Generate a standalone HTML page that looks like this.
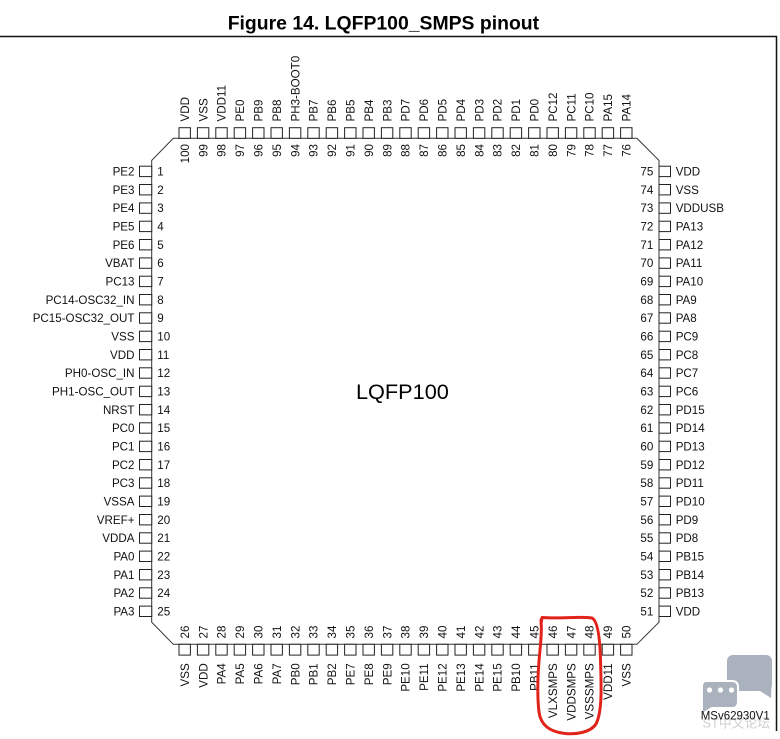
<!DOCTYPE html>
<html><head><meta charset="utf-8"><style>
html,body{margin:0;padding:0;background:#fff;}
svg{display:block;}
text{font-family:"Liberation Sans",Arial,sans-serif;font-size:11.6px;fill:#111;}
.e{text-anchor:end;}
rect.b{fill:#fff;stroke:#222;stroke-width:1;}
</style></head><body>
<svg width="780" height="739" viewBox="0 0 780 739" xmlns="http://www.w3.org/2000/svg">
<rect x="0" y="0" width="780" height="739" fill="#fff"/>
<text x="383.4" y="29.5" style="font-size:19.4px;font-weight:bold;text-anchor:middle;fill:#000">Figure 14. LQFP100_SMPS pinout</text>
<path d="M0 36.5 H776.5 V731" fill="none" stroke="#111" stroke-width="1.5"/>
<polygon points="173.3,138.3 636.9,138.3 659,160.4 659,622.2 636.9,644.3 173.3,644.3 151.7,622.2 151.7,160.4" fill="none" stroke="#333" stroke-width="1"/>
<text x="356" y="399" style="font-size:21.7px;fill:#000">LQFP100</text>

<!-- Left pins -->
<g transform="translate(0 171.4)"><rect class="b" x="139.5" y="-5.2" width="12.2" height="10.4"/><text class="e" x="134.5" y="4.1">PE2</text><text x="157.3" y="4.1">1</text></g>
<g transform="translate(0 189.7)"><rect class="b" x="139.5" y="-5.2" width="12.2" height="10.4"/><text class="e" x="134.5" y="4.1">PE3</text><text x="157.3" y="4.1">2</text></g>
<g transform="translate(0 208.1)"><rect class="b" x="139.5" y="-5.2" width="12.2" height="10.4"/><text class="e" x="134.5" y="4.1">PE4</text><text x="157.3" y="4.1">3</text></g>
<g transform="translate(0 226.4)"><rect class="b" x="139.5" y="-5.2" width="12.2" height="10.4"/><text class="e" x="134.5" y="4.1">PE5</text><text x="157.3" y="4.1">4</text></g>
<g transform="translate(0 244.7)"><rect class="b" x="139.5" y="-5.2" width="12.2" height="10.4"/><text class="e" x="134.5" y="4.1">PE6</text><text x="157.3" y="4.1">5</text></g>
<g transform="translate(0 263.1)"><rect class="b" x="139.5" y="-5.2" width="12.2" height="10.4"/><text class="e" x="134.5" y="4.1">VBAT</text><text x="157.3" y="4.1">6</text></g>
<g transform="translate(0 281.4)"><rect class="b" x="139.5" y="-5.2" width="12.2" height="10.4"/><text class="e" x="134.5" y="4.1">PC13</text><text x="157.3" y="4.1">7</text></g>
<g transform="translate(0 299.7)"><rect class="b" x="139.5" y="-5.2" width="12.2" height="10.4"/><text class="e" x="134.5" y="4.1">PC14-OSC32_IN</text><text x="157.3" y="4.1">8</text></g>
<g transform="translate(0 318.0)"><rect class="b" x="139.5" y="-5.2" width="12.2" height="10.4"/><text class="e" x="134.5" y="4.1">PC15-OSC32_OUT</text><text x="157.3" y="4.1">9</text></g>
<g transform="translate(0 336.4)"><rect class="b" x="139.5" y="-5.2" width="12.2" height="10.4"/><text class="e" x="134.5" y="4.1">VSS</text><text x="157.3" y="4.1">10</text></g>
<g transform="translate(0 354.7)"><rect class="b" x="139.5" y="-5.2" width="12.2" height="10.4"/><text class="e" x="134.5" y="4.1">VDD</text><text x="157.3" y="4.1">11</text></g>
<g transform="translate(0 373.0)"><rect class="b" x="139.5" y="-5.2" width="12.2" height="10.4"/><text class="e" x="134.5" y="4.1">PH0-OSC_IN</text><text x="157.3" y="4.1">12</text></g>
<g transform="translate(0 391.4)"><rect class="b" x="139.5" y="-5.2" width="12.2" height="10.4"/><text class="e" x="134.5" y="4.1">PH1-OSC_OUT</text><text x="157.3" y="4.1">13</text></g>
<g transform="translate(0 409.7)"><rect class="b" x="139.5" y="-5.2" width="12.2" height="10.4"/><text class="e" x="134.5" y="4.1">NRST</text><text x="157.3" y="4.1">14</text></g>
<g transform="translate(0 428.0)"><rect class="b" x="139.5" y="-5.2" width="12.2" height="10.4"/><text class="e" x="134.5" y="4.1">PC0</text><text x="157.3" y="4.1">15</text></g>
<g transform="translate(0 446.4)"><rect class="b" x="139.5" y="-5.2" width="12.2" height="10.4"/><text class="e" x="134.5" y="4.1">PC1</text><text x="157.3" y="4.1">16</text></g>
<g transform="translate(0 464.7)"><rect class="b" x="139.5" y="-5.2" width="12.2" height="10.4"/><text class="e" x="134.5" y="4.1">PC2</text><text x="157.3" y="4.1">17</text></g>
<g transform="translate(0 483.0)"><rect class="b" x="139.5" y="-5.2" width="12.2" height="10.4"/><text class="e" x="134.5" y="4.1">PC3</text><text x="157.3" y="4.1">18</text></g>
<g transform="translate(0 501.3)"><rect class="b" x="139.5" y="-5.2" width="12.2" height="10.4"/><text class="e" x="134.5" y="4.1">VSSA</text><text x="157.3" y="4.1">19</text></g>
<g transform="translate(0 519.7)"><rect class="b" x="139.5" y="-5.2" width="12.2" height="10.4"/><text class="e" x="134.5" y="4.1">VREF+</text><text x="157.3" y="4.1">20</text></g>
<g transform="translate(0 538.0)"><rect class="b" x="139.5" y="-5.2" width="12.2" height="10.4"/><text class="e" x="134.5" y="4.1">VDDA</text><text x="157.3" y="4.1">21</text></g>
<g transform="translate(0 556.3)"><rect class="b" x="139.5" y="-5.2" width="12.2" height="10.4"/><text class="e" x="134.5" y="4.1">PA0</text><text x="157.3" y="4.1">22</text></g>
<g transform="translate(0 574.7)"><rect class="b" x="139.5" y="-5.2" width="12.2" height="10.4"/><text class="e" x="134.5" y="4.1">PA1</text><text x="157.3" y="4.1">23</text></g>
<g transform="translate(0 593.0)"><rect class="b" x="139.5" y="-5.2" width="12.2" height="10.4"/><text class="e" x="134.5" y="4.1">PA2</text><text x="157.3" y="4.1">24</text></g>
<g transform="translate(0 611.3)"><rect class="b" x="139.5" y="-5.2" width="12.2" height="10.4"/><text class="e" x="134.5" y="4.1">PA3</text><text x="157.3" y="4.1">25</text></g>

<!-- Right pins -->
<g transform="translate(0 171.4)"><rect class="b" x="659" y="-5.2" width="11.5" height="10.4"/><text class="e" x="653.3" y="4.1">75</text><text x="675.7" y="4.1">VDD</text></g>
<g transform="translate(0 189.7)"><rect class="b" x="659" y="-5.2" width="11.5" height="10.4"/><text class="e" x="653.3" y="4.1">74</text><text x="675.7" y="4.1">VSS</text></g>
<g transform="translate(0 208.1)"><rect class="b" x="659" y="-5.2" width="11.5" height="10.4"/><text class="e" x="653.3" y="4.1">73</text><text x="675.7" y="4.1">VDDUSB</text></g>
<g transform="translate(0 226.4)"><rect class="b" x="659" y="-5.2" width="11.5" height="10.4"/><text class="e" x="653.3" y="4.1">72</text><text x="675.7" y="4.1">PA13</text></g>
<g transform="translate(0 244.7)"><rect class="b" x="659" y="-5.2" width="11.5" height="10.4"/><text class="e" x="653.3" y="4.1">71</text><text x="675.7" y="4.1">PA12</text></g>
<g transform="translate(0 263.1)"><rect class="b" x="659" y="-5.2" width="11.5" height="10.4"/><text class="e" x="653.3" y="4.1">70</text><text x="675.7" y="4.1">PA11</text></g>
<g transform="translate(0 281.4)"><rect class="b" x="659" y="-5.2" width="11.5" height="10.4"/><text class="e" x="653.3" y="4.1">69</text><text x="675.7" y="4.1">PA10</text></g>
<g transform="translate(0 299.7)"><rect class="b" x="659" y="-5.2" width="11.5" height="10.4"/><text class="e" x="653.3" y="4.1">68</text><text x="675.7" y="4.1">PA9</text></g>
<g transform="translate(0 318.0)"><rect class="b" x="659" y="-5.2" width="11.5" height="10.4"/><text class="e" x="653.3" y="4.1">67</text><text x="675.7" y="4.1">PA8</text></g>
<g transform="translate(0 336.4)"><rect class="b" x="659" y="-5.2" width="11.5" height="10.4"/><text class="e" x="653.3" y="4.1">66</text><text x="675.7" y="4.1">PC9</text></g>
<g transform="translate(0 354.7)"><rect class="b" x="659" y="-5.2" width="11.5" height="10.4"/><text class="e" x="653.3" y="4.1">65</text><text x="675.7" y="4.1">PC8</text></g>
<g transform="translate(0 373.0)"><rect class="b" x="659" y="-5.2" width="11.5" height="10.4"/><text class="e" x="653.3" y="4.1">64</text><text x="675.7" y="4.1">PC7</text></g>
<g transform="translate(0 391.4)"><rect class="b" x="659" y="-5.2" width="11.5" height="10.4"/><text class="e" x="653.3" y="4.1">63</text><text x="675.7" y="4.1">PC6</text></g>
<g transform="translate(0 409.7)"><rect class="b" x="659" y="-5.2" width="11.5" height="10.4"/><text class="e" x="653.3" y="4.1">62</text><text x="675.7" y="4.1">PD15</text></g>
<g transform="translate(0 428.0)"><rect class="b" x="659" y="-5.2" width="11.5" height="10.4"/><text class="e" x="653.3" y="4.1">61</text><text x="675.7" y="4.1">PD14</text></g>
<g transform="translate(0 446.4)"><rect class="b" x="659" y="-5.2" width="11.5" height="10.4"/><text class="e" x="653.3" y="4.1">60</text><text x="675.7" y="4.1">PD13</text></g>
<g transform="translate(0 464.7)"><rect class="b" x="659" y="-5.2" width="11.5" height="10.4"/><text class="e" x="653.3" y="4.1">59</text><text x="675.7" y="4.1">PD12</text></g>
<g transform="translate(0 483.0)"><rect class="b" x="659" y="-5.2" width="11.5" height="10.4"/><text class="e" x="653.3" y="4.1">58</text><text x="675.7" y="4.1">PD11</text></g>
<g transform="translate(0 501.3)"><rect class="b" x="659" y="-5.2" width="11.5" height="10.4"/><text class="e" x="653.3" y="4.1">57</text><text x="675.7" y="4.1">PD10</text></g>
<g transform="translate(0 519.7)"><rect class="b" x="659" y="-5.2" width="11.5" height="10.4"/><text class="e" x="653.3" y="4.1">56</text><text x="675.7" y="4.1">PD9</text></g>
<g transform="translate(0 538.0)"><rect class="b" x="659" y="-5.2" width="11.5" height="10.4"/><text class="e" x="653.3" y="4.1">55</text><text x="675.7" y="4.1">PD8</text></g>
<g transform="translate(0 556.3)"><rect class="b" x="659" y="-5.2" width="11.5" height="10.4"/><text class="e" x="653.3" y="4.1">54</text><text x="675.7" y="4.1">PB15</text></g>
<g transform="translate(0 574.7)"><rect class="b" x="659" y="-5.2" width="11.5" height="10.4"/><text class="e" x="653.3" y="4.1">53</text><text x="675.7" y="4.1">PB14</text></g>
<g transform="translate(0 593.0)"><rect class="b" x="659" y="-5.2" width="11.5" height="10.4"/><text class="e" x="653.3" y="4.1">52</text><text x="675.7" y="4.1">PB13</text></g>
<g transform="translate(0 611.3)"><rect class="b" x="659" y="-5.2" width="11.5" height="10.4"/><text class="e" x="653.3" y="4.1">51</text><text x="675.7" y="4.1">VDD</text></g>

<!-- Top pins -->
<g transform="translate(184.7 0)"><rect class="b" x="-5.7" y="127.7" width="11.4" height="10.6"/><text transform="translate(4.2 121.5) rotate(-90)">VDD</text><text class="e" transform="translate(4.2 144) rotate(-90)">100</text></g>
<g transform="translate(203.1 0)"><rect class="b" x="-5.7" y="127.7" width="11.4" height="10.6"/><text transform="translate(4.2 121.5) rotate(-90)">VSS</text><text class="e" transform="translate(4.2 144) rotate(-90)">99</text></g>
<g transform="translate(221.5 0)"><rect class="b" x="-5.7" y="127.7" width="11.4" height="10.6"/><text transform="translate(4.2 121.5) rotate(-90)">VDD11</text><text class="e" transform="translate(4.2 144) rotate(-90)">98</text></g>
<g transform="translate(239.9 0)"><rect class="b" x="-5.7" y="127.7" width="11.4" height="10.6"/><text transform="translate(4.2 121.5) rotate(-90)">PE0</text><text class="e" transform="translate(4.2 144) rotate(-90)">97</text></g>
<g transform="translate(258.3 0)"><rect class="b" x="-5.7" y="127.7" width="11.4" height="10.6"/><text transform="translate(4.2 121.5) rotate(-90)">PB9</text><text class="e" transform="translate(4.2 144) rotate(-90)">96</text></g>
<g transform="translate(276.7 0)"><rect class="b" x="-5.7" y="127.7" width="11.4" height="10.6"/><text transform="translate(4.2 121.5) rotate(-90)">PB8</text><text class="e" transform="translate(4.2 144) rotate(-90)">95</text></g>
<g transform="translate(295.1 0)"><rect class="b" x="-5.7" y="127.7" width="11.4" height="10.6"/><text transform="translate(4.2 121.5) rotate(-90)">PH3-BOOT0</text><text class="e" transform="translate(4.2 144) rotate(-90)">94</text></g>
<g transform="translate(313.5 0)"><rect class="b" x="-5.7" y="127.7" width="11.4" height="10.6"/><text transform="translate(4.2 121.5) rotate(-90)">PB7</text><text class="e" transform="translate(4.2 144) rotate(-90)">93</text></g>
<g transform="translate(331.9 0)"><rect class="b" x="-5.7" y="127.7" width="11.4" height="10.6"/><text transform="translate(4.2 121.5) rotate(-90)">PB6</text><text class="e" transform="translate(4.2 144) rotate(-90)">92</text></g>
<g transform="translate(350.3 0)"><rect class="b" x="-5.7" y="127.7" width="11.4" height="10.6"/><text transform="translate(4.2 121.5) rotate(-90)">PB5</text><text class="e" transform="translate(4.2 144) rotate(-90)">91</text></g>
<g transform="translate(368.7 0)"><rect class="b" x="-5.7" y="127.7" width="11.4" height="10.6"/><text transform="translate(4.2 121.5) rotate(-90)">PB4</text><text class="e" transform="translate(4.2 144) rotate(-90)">90</text></g>
<g transform="translate(387.1 0)"><rect class="b" x="-5.7" y="127.7" width="11.4" height="10.6"/><text transform="translate(4.2 121.5) rotate(-90)">PB3</text><text class="e" transform="translate(4.2 144) rotate(-90)">89</text></g>
<g transform="translate(405.5 0)"><rect class="b" x="-5.7" y="127.7" width="11.4" height="10.6"/><text transform="translate(4.2 121.5) rotate(-90)">PD7</text><text class="e" transform="translate(4.2 144) rotate(-90)">88</text></g>
<g transform="translate(423.9 0)"><rect class="b" x="-5.7" y="127.7" width="11.4" height="10.6"/><text transform="translate(4.2 121.5) rotate(-90)">PD6</text><text class="e" transform="translate(4.2 144) rotate(-90)">87</text></g>
<g transform="translate(442.3 0)"><rect class="b" x="-5.7" y="127.7" width="11.4" height="10.6"/><text transform="translate(4.2 121.5) rotate(-90)">PD5</text><text class="e" transform="translate(4.2 144) rotate(-90)">86</text></g>
<g transform="translate(460.7 0)"><rect class="b" x="-5.7" y="127.7" width="11.4" height="10.6"/><text transform="translate(4.2 121.5) rotate(-90)">PD4</text><text class="e" transform="translate(4.2 144) rotate(-90)">85</text></g>
<g transform="translate(479.1 0)"><rect class="b" x="-5.7" y="127.7" width="11.4" height="10.6"/><text transform="translate(4.2 121.5) rotate(-90)">PD3</text><text class="e" transform="translate(4.2 144) rotate(-90)">84</text></g>
<g transform="translate(497.5 0)"><rect class="b" x="-5.7" y="127.7" width="11.4" height="10.6"/><text transform="translate(4.2 121.5) rotate(-90)">PD2</text><text class="e" transform="translate(4.2 144) rotate(-90)">83</text></g>
<g transform="translate(515.9 0)"><rect class="b" x="-5.7" y="127.7" width="11.4" height="10.6"/><text transform="translate(4.2 121.5) rotate(-90)">PD1</text><text class="e" transform="translate(4.2 144) rotate(-90)">82</text></g>
<g transform="translate(534.3 0)"><rect class="b" x="-5.7" y="127.7" width="11.4" height="10.6"/><text transform="translate(4.2 121.5) rotate(-90)">PD0</text><text class="e" transform="translate(4.2 144) rotate(-90)">81</text></g>
<g transform="translate(552.7 0)"><rect class="b" x="-5.7" y="127.7" width="11.4" height="10.6"/><text transform="translate(4.2 121.5) rotate(-90)">PC12</text><text class="e" transform="translate(4.2 144) rotate(-90)">80</text></g>
<g transform="translate(571.1 0)"><rect class="b" x="-5.7" y="127.7" width="11.4" height="10.6"/><text transform="translate(4.2 121.5) rotate(-90)">PC11</text><text class="e" transform="translate(4.2 144) rotate(-90)">79</text></g>
<g transform="translate(589.5 0)"><rect class="b" x="-5.7" y="127.7" width="11.4" height="10.6"/><text transform="translate(4.2 121.5) rotate(-90)">PC10</text><text class="e" transform="translate(4.2 144) rotate(-90)">78</text></g>
<g transform="translate(607.9 0)"><rect class="b" x="-5.7" y="127.7" width="11.4" height="10.6"/><text transform="translate(4.2 121.5) rotate(-90)">PA15</text><text class="e" transform="translate(4.2 144) rotate(-90)">77</text></g>
<g transform="translate(626.3 0)"><rect class="b" x="-5.7" y="127.7" width="11.4" height="10.6"/><text transform="translate(4.2 121.5) rotate(-90)">PA14</text><text class="e" transform="translate(4.2 144) rotate(-90)">76</text></g>

<!-- Bottom pins -->
<g transform="translate(184.7 0)"><rect class="b" x="-5.7" y="644.3" width="11.4" height="10.8"/><text transform="translate(4.2 638.5) rotate(-90)">26</text><text class="e" transform="translate(4.2 663.3) rotate(-90)">VSS</text></g>
<g transform="translate(203.1 0)"><rect class="b" x="-5.7" y="644.3" width="11.4" height="10.8"/><text transform="translate(4.2 638.5) rotate(-90)">27</text><text class="e" transform="translate(4.2 663.3) rotate(-90)">VDD</text></g>
<g transform="translate(221.5 0)"><rect class="b" x="-5.7" y="644.3" width="11.4" height="10.8"/><text transform="translate(4.2 638.5) rotate(-90)">28</text><text class="e" transform="translate(4.2 663.3) rotate(-90)">PA4</text></g>
<g transform="translate(239.9 0)"><rect class="b" x="-5.7" y="644.3" width="11.4" height="10.8"/><text transform="translate(4.2 638.5) rotate(-90)">29</text><text class="e" transform="translate(4.2 663.3) rotate(-90)">PA5</text></g>
<g transform="translate(258.3 0)"><rect class="b" x="-5.7" y="644.3" width="11.4" height="10.8"/><text transform="translate(4.2 638.5) rotate(-90)">30</text><text class="e" transform="translate(4.2 663.3) rotate(-90)">PA6</text></g>
<g transform="translate(276.7 0)"><rect class="b" x="-5.7" y="644.3" width="11.4" height="10.8"/><text transform="translate(4.2 638.5) rotate(-90)">31</text><text class="e" transform="translate(4.2 663.3) rotate(-90)">PA7</text></g>
<g transform="translate(295.1 0)"><rect class="b" x="-5.7" y="644.3" width="11.4" height="10.8"/><text transform="translate(4.2 638.5) rotate(-90)">32</text><text class="e" transform="translate(4.2 663.3) rotate(-90)">PB0</text></g>
<g transform="translate(313.5 0)"><rect class="b" x="-5.7" y="644.3" width="11.4" height="10.8"/><text transform="translate(4.2 638.5) rotate(-90)">33</text><text class="e" transform="translate(4.2 663.3) rotate(-90)">PB1</text></g>
<g transform="translate(331.9 0)"><rect class="b" x="-5.7" y="644.3" width="11.4" height="10.8"/><text transform="translate(4.2 638.5) rotate(-90)">34</text><text class="e" transform="translate(4.2 663.3) rotate(-90)">PB2</text></g>
<g transform="translate(350.3 0)"><rect class="b" x="-5.7" y="644.3" width="11.4" height="10.8"/><text transform="translate(4.2 638.5) rotate(-90)">35</text><text class="e" transform="translate(4.2 663.3) rotate(-90)">PE7</text></g>
<g transform="translate(368.7 0)"><rect class="b" x="-5.7" y="644.3" width="11.4" height="10.8"/><text transform="translate(4.2 638.5) rotate(-90)">36</text><text class="e" transform="translate(4.2 663.3) rotate(-90)">PE8</text></g>
<g transform="translate(387.1 0)"><rect class="b" x="-5.7" y="644.3" width="11.4" height="10.8"/><text transform="translate(4.2 638.5) rotate(-90)">37</text><text class="e" transform="translate(4.2 663.3) rotate(-90)">PE9</text></g>
<g transform="translate(405.5 0)"><rect class="b" x="-5.7" y="644.3" width="11.4" height="10.8"/><text transform="translate(4.2 638.5) rotate(-90)">38</text><text class="e" transform="translate(4.2 663.3) rotate(-90)">PE10</text></g>
<g transform="translate(423.9 0)"><rect class="b" x="-5.7" y="644.3" width="11.4" height="10.8"/><text transform="translate(4.2 638.5) rotate(-90)">39</text><text class="e" transform="translate(4.2 663.3) rotate(-90)">PE11</text></g>
<g transform="translate(442.3 0)"><rect class="b" x="-5.7" y="644.3" width="11.4" height="10.8"/><text transform="translate(4.2 638.5) rotate(-90)">40</text><text class="e" transform="translate(4.2 663.3) rotate(-90)">PE12</text></g>
<g transform="translate(460.7 0)"><rect class="b" x="-5.7" y="644.3" width="11.4" height="10.8"/><text transform="translate(4.2 638.5) rotate(-90)">41</text><text class="e" transform="translate(4.2 663.3) rotate(-90)">PE13</text></g>
<g transform="translate(479.1 0)"><rect class="b" x="-5.7" y="644.3" width="11.4" height="10.8"/><text transform="translate(4.2 638.5) rotate(-90)">42</text><text class="e" transform="translate(4.2 663.3) rotate(-90)">PE14</text></g>
<g transform="translate(497.5 0)"><rect class="b" x="-5.7" y="644.3" width="11.4" height="10.8"/><text transform="translate(4.2 638.5) rotate(-90)">43</text><text class="e" transform="translate(4.2 663.3) rotate(-90)">PE15</text></g>
<g transform="translate(515.9 0)"><rect class="b" x="-5.7" y="644.3" width="11.4" height="10.8"/><text transform="translate(4.2 638.5) rotate(-90)">44</text><text class="e" transform="translate(4.2 663.3) rotate(-90)">PB10</text></g>
<g transform="translate(534.3 0)"><rect class="b" x="-5.7" y="644.3" width="11.4" height="10.8"/><text transform="translate(4.2 638.5) rotate(-90)">45</text><text class="e" transform="translate(4.2 663.3) rotate(-90)">PB11</text></g>
<g transform="translate(552.7 0)"><rect class="b" x="-5.7" y="644.3" width="11.4" height="10.8"/><text transform="translate(4.2 638.5) rotate(-90)">46</text><text class="e" transform="translate(4.2 663.3) rotate(-90)">VLXSMPS</text></g>
<g transform="translate(571.1 0)"><rect class="b" x="-5.7" y="644.3" width="11.4" height="10.8"/><text transform="translate(4.2 638.5) rotate(-90)">47</text><text class="e" transform="translate(4.2 663.3) rotate(-90)">VDDSMPS</text></g>
<g transform="translate(589.5 0)"><rect class="b" x="-5.7" y="644.3" width="11.4" height="10.8"/><text transform="translate(4.2 638.5) rotate(-90)">48</text><text class="e" transform="translate(4.2 663.3) rotate(-90)">VSSSMPS</text></g>
<g transform="translate(607.9 0)"><rect class="b" x="-5.7" y="644.3" width="11.4" height="10.8"/><text transform="translate(4.2 638.5) rotate(-90)">49</text><text class="e" transform="translate(4.2 663.3) rotate(-90)">VDD11</text></g>
<g transform="translate(626.3 0)"><rect class="b" x="-5.7" y="644.3" width="11.4" height="10.8"/><text transform="translate(4.2 638.5) rotate(-90)">50</text><text class="e" transform="translate(4.2 663.3) rotate(-90)">VSS</text></g>

<!-- Red hand-drawn loop -->
<path d="M541,624 L542,617.5 C560,619 580,616 592,618 C598,621 600,640 600.5,660 C601.5,690 602,712 596,724 C590,733 575,734.5 565,733.5 C552,732 541,727 539,712 C537,695 538,670 540,650 C541,640 542,630 541,620" fill="none" stroke="#e2231a" stroke-width="3" stroke-linecap="round" stroke-linejoin="round"/>

<!-- Watermark -->
<g fill="#a9b2bd">
  <rect x="727" y="655" width="45" height="36" rx="6"/>
  <polygon points="757,689 771.5,686 771,698"/>
</g>
<g fill="#a9b2bd" stroke="#fff" stroke-width="2">
  <path d="M706,681 H732 Q738,681 738,687 V702 Q738,708 732,708 H712 L702,714 L702,687 Q702,681 706,681 Z"/>
</g>
<g fill="#fff">
  <circle cx="709.5" cy="690" r="2.6"/>
  <circle cx="720.5" cy="690" r="2.6"/>
  <circle cx="731.5" cy="690" r="2.6"/>
</g>
<text x="702.5" y="727.5" style="font-family:'Liberation Sans','Noto Sans CJK SC',sans-serif;font-size:12.8px;fill:#cfcfcf">ST中文论坛</text>
<text x="700.7" y="719.5" style="font-size:11.5px;fill:#111">MSv62930V1</text>
</svg>
</body></html>
